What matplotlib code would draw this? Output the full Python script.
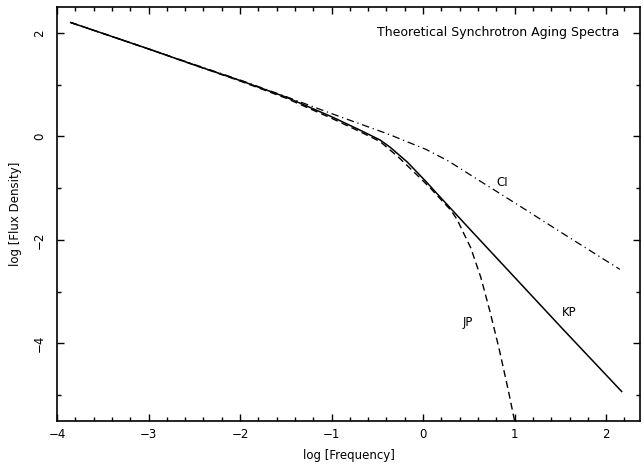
import matplotlib
matplotlib.use("Agg")
import matplotlib.pyplot as plt
from matplotlib.ticker import MultipleLocator

# ---- data ----
kp_x = [-3.85, -3.0, -2.5, -2.0, -1.5, -1.0, -0.7, -0.47, -0.36, -0.17, 0.03, 0.18, 0.53, 1.03, 1.53, 2.17]
kp_y = [2.20, 1.69, 1.38, 1.08, 0.76, 0.38, 0.13, -0.07, -0.21, -0.50, -0.87, -1.16, -1.83, -2.78, -3.73, -4.93]

jp_x = [-3.85, -3.0, -2.5, -2.0, -1.5, -1.0, -0.7, -0.47, -0.27, -0.07, 0.08, 0.2, 0.3, 0.37, 0.44, 0.52,
        0.63, 0.73, 0.83, 0.93, 1.0]
jp_y = [2.20, 1.69, 1.38, 1.07, 0.74, 0.35, 0.10, -0.10, -0.40, -0.74, -1.0, -1.23, -1.42, -1.6, -1.86, -2.15,
        -2.72, -3.38, -4.10, -4.90, -5.5]

ci_x = [-3.85, -3.0, -2.5, -2.0, -1.5, -1.0, -0.5, -0.36, -0.25, 0.03, 0.28, 0.53, 1.06, 1.53, 2.15]
ci_y = [2.20, 1.69, 1.39, 1.09, 0.77, 0.44, 0.12, 0.03, -0.05, -0.25, -0.48, -0.76, -1.35, -1.88, -2.57]

labels = {"CI": (0.86, -0.90), "JP": (0.49, -3.60), "KP": (1.60, -3.41)}
title = "Theoretical Synchrotron Aging Spectra"
x_ticks = [-4, -3, -2, -1, 0, 1, 2]
y_ticks = [-4, -2, 0, 2]

plt.rcParams['font.family'] = ['DejaVu Sans']
fig = plt.figure(figsize=(6.44, 4.69), dpi=100)
ax = fig.add_axes([57/644, 48/469, (640-57)/644, (421-7)/469])

ax.plot(kp_x, kp_y, color='black', lw=1.1, ls='-')
ax.plot(jp_x, jp_y, color='black', lw=1.0, ls=(0, (5, 3)))
ax.plot(ci_x, ci_y, color='black', lw=0.9, ls=(0, (6, 3, 1, 3)))

for name, (lx, ly) in labels.items():
    ax.text(lx, ly, name, fontsize=8.5, ha='center', va='center')

ax.text(2.14, 2.0, title, fontsize=9, ha='right', va='center')

ax.set_xlim(-4, 2.37)
ax.set_ylim(-5.5, 2.5)
ax.set_xticks(x_ticks)
ax.set_yticks(y_ticks)
ax.xaxis.set_minor_locator(MultipleLocator(0.2))
ax.yaxis.set_minor_locator(MultipleLocator(1))

ax.tick_params(which='both', direction='in', top=True, right=True, labelsize=8.5, width=1)
ax.tick_params(which='major', length=5)
ax.tick_params(which='minor', length=3)
ax.tick_params(axis='x', pad=5)
ax.tick_params(axis='y', pad=8)
for lab in ax.get_yticklabels():
    lab.set_rotation(90)
    lab.set_va('center')

for s in ax.spines.values():
    s.set_linewidth(1.2)

ax.set_xlabel("log [Frequency]", fontsize=8.5, labelpad=6)
ax.set_ylabel("log [Flux Density]", fontsize=8.5, labelpad=8)

fig.savefig("out.png", dpi=100)
